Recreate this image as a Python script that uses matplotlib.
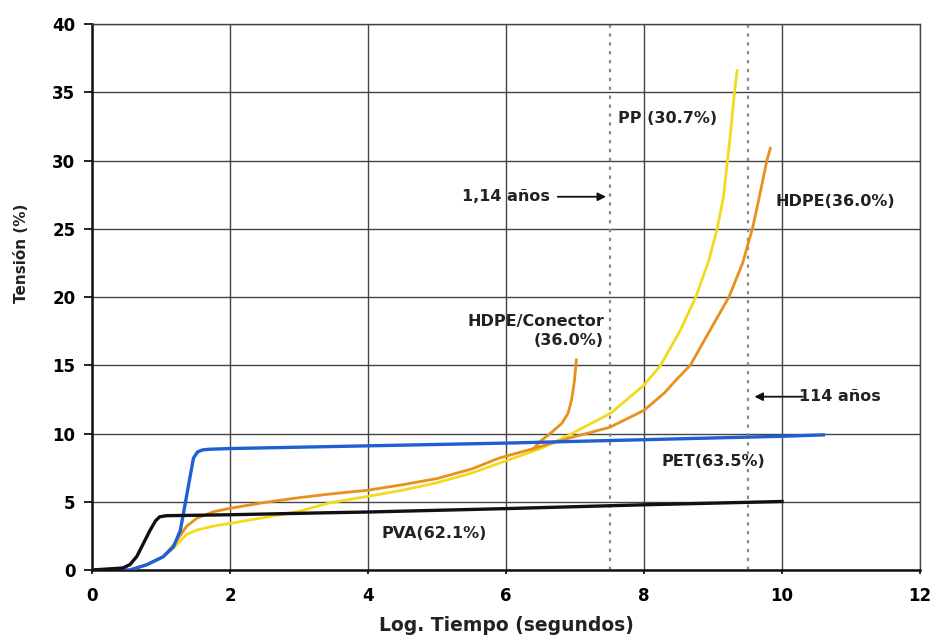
import matplotlib
matplotlib.use('Agg')
import matplotlib.pyplot as plt

# readings from the figure (x = log time in s, y = strain %)
pva_x = [0, 0.45, 0.55, 0.65, 0.75, 0.84, 0.92, 0.98, 1.08, 2.0, 3.45, 4.0, 6.0, 8.0, 10.0]
pva_y = [0, 0.15, 0.4, 1.0, 2.0, 2.9, 3.6, 3.9, 3.98, 4.05, 4.2, 4.25, 4.5, 4.78, 5.02]

pet_x = [0, 0.55, 0.8, 1.03, 1.18, 1.28, 1.37, 1.47, 1.53, 1.6, 1.7, 2.0, 4.0, 6.0, 8.0, 10.0, 10.6]
pet_y = [0, 0, 0.4, 0.97, 1.7, 2.9, 5.4, 8.2, 8.65, 8.8, 8.85, 8.9, 9.1, 9.3, 9.55, 9.8, 9.9]

pp_x = [0, 0.55, 0.8, 1.03, 1.18, 1.37, 1.52, 1.76, 2.0, 2.5, 3.0, 3.45, 4.0, 4.5, 5.0, 5.5,
        6.0, 6.5, 6.88, 7.52, 8.0, 8.24, 8.53, 8.75, 8.94, 9.06, 9.15, 9.21, 9.265, 9.31, 9.35]
pp_y = [0, 0, 0.4, 0.97, 1.6, 2.6, 2.93, 3.22, 3.41, 3.85, 4.3, 4.93, 5.4, 5.85, 6.4, 7.1,
        8.0, 8.9, 9.8, 11.5, 13.55, 15.0, 17.6, 20.0, 22.7, 25.0, 27.3, 30.0, 32.6, 35.0, 36.6]

hdpe_x = [0, 0.55, 0.8, 1.03, 1.2, 1.37, 1.52, 1.76, 2.0, 2.5, 3.0, 3.45, 4.0, 4.5, 5.0, 5.5,
          5.9, 6.4, 6.9, 7.5, 8.0, 8.3, 8.46, 8.67, 8.96, 9.23, 9.43, 9.58, 9.69, 9.78, 9.83]
hdpe_y = [0, 0, 0.4, 0.97, 1.95, 3.2, 3.8, 4.27, 4.52, 4.95, 5.3, 5.57, 5.85, 6.25, 6.7, 7.4,
          8.2, 8.9, 9.65, 10.45, 11.7, 13.0, 13.9, 15.0, 17.6, 20.0, 22.5, 25.2, 27.8, 30.0, 30.9]

con_x = [6.4, 6.5, 6.64, 6.81, 6.9, 6.95, 6.99, 7.02]
con_y = [8.9, 9.45, 10.0, 10.75, 11.5, 12.45, 13.8, 15.4]

t_114 = 7.5   # 1,14 años
t_114b = 9.5  # 114 años

fig = plt.figure(figsize=(9.35, 6.43), dpi=100)
ax = fig.add_axes([0.0984, 0.1135, 0.8856, 0.849])

ax.set_xlim(0, 12)
ax.set_ylim(0, 40)
ax.set_xticks(range(0, 13, 2))
ax.set_yticks(range(0, 41, 5))
ax.grid(True, color='#444444', lw=1.0)
ax.set_axisbelow(True)
for s in ['top', 'right']:
    ax.spines[s].set_color('#444444')
    ax.spines[s].set_linewidth(1.0)
for s in ['left', 'bottom']:
    ax.spines[s].set_color('#111111')
    ax.spines[s].set_linewidth(1.8)
ax.tick_params(axis='y', direction='out', length=6, width=1.2, pad=6, labelsize=12)
ax.tick_params(axis='x', direction='out', length=3, width=1.2, pad=9, labelsize=12)
for lab in ax.get_xticklabels() + ax.get_yticklabels():
    lab.set_fontweight('bold')

ax.axvline(t_114, color='#8a8a8a', lw=1.6, ls=(0, (1.5, 2.5)), zorder=1)
ax.axvline(t_114b, color='#8a8a8a', lw=1.6, ls=(0, (1.5, 2.5)), zorder=1)

ax.plot(pp_x, pp_y, color='#f2da1e', lw=2.0, zorder=3)
ax.plot(hdpe_x, hdpe_y, color='#e8901c', lw=2.0, zorder=3)
ax.plot(con_x, con_y, color='#e8901c', lw=2.0, zorder=3)
ax.plot(pet_x, pet_y, color='#1f5fd4', lw=2.4, zorder=4)
ax.plot(pva_x, pva_y, color='#111111', lw=2.4, zorder=5)

fw = dict(fontsize=11.5, fontweight='bold', color='#222222')
ax.text(7.62, 33.1, 'PP (30.7%)', ha='left', va='center', **fw)
ax.text(9.91, 27.0, 'HDPE(36.0%)', ha='left', va='center', **fw)
ax.text(7.42, 17.5, 'HDPE/Conector\n(36.0%)', ha='right', va='center', ma='right',
        linespacing=1.3, **fw)
ax.text(8.26, 7.93, 'PET(63.5%)', ha='left', va='center', **fw)
ax.text(4.2, 2.7, 'PVA(62.1%)', ha='left', va='center', **fw)
ax.text(6.64, 27.35, '1,14 años', ha='right', va='center', **fw)
ax.text(10.25, 12.7, '114 años', ha='left', va='center', **fw)

arr = dict(arrowstyle='-|>', color='#111111', lw=1.3, mutation_scale=12,
           shrinkA=0, shrinkB=0)
ax.annotate('', xy=(7.45, 27.35), xytext=(6.75, 27.35), arrowprops=arr)
ax.annotate('', xy=(9.6, 12.7), xytext=(10.3, 12.7), arrowprops=arr)

ax.set_xlabel('Log. Tiempo (segundos)', fontsize=13.5, fontweight='bold', color='#222222')
ax.set_ylabel('Tensión (%)', fontsize=11, fontweight='bold', color='#222222')
ax.xaxis.set_label_coords(0.501, -0.085)
ax.yaxis.set_label_coords(-0.076, 0.58)

fig.savefig('out.png', dpi=100, facecolor='white')
